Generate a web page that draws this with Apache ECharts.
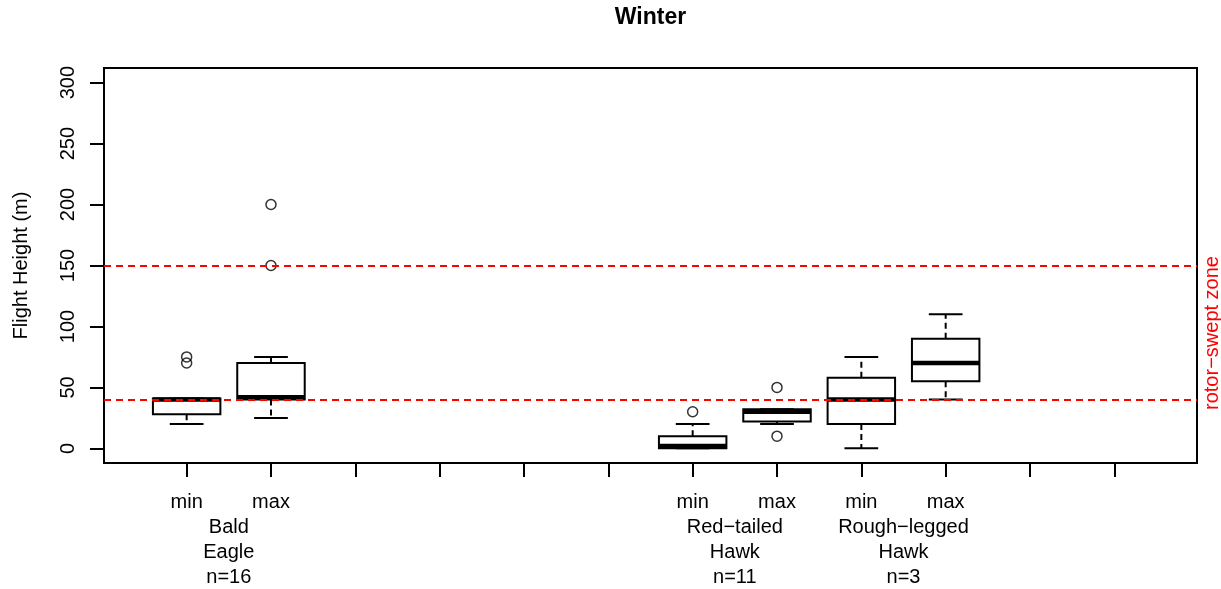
<!DOCTYPE html>
<html>
<head>
<meta charset="utf-8">
<script src="https://cdn.jsdelivr.net/npm/echarts@6/dist/echarts.min.js"></script>
<style>
html,body{margin:0;padding:0;background:#fff;}
#chart{width:1221px;height:589px;}
</style>
</head>
<body>
<div id="chart"></div>
<script>
// ---- data ----
const tickLabels = ['min','max','','','','','min','max','min','max','',''];
const tickPositions = [1,2,3,4,5,6,7,8,9,10,11,12];
const groupNames = ['Bald\nEagle\nn=16', 'Red\u2212tailed\nHawk\nn=11', 'Rough\u2212legged\nHawk\nn=3'];
const groupSlots = [[1,2],[7,8],[9,10]];

const boxPositions = [1, 2, 7, 8, 9, 10];
const whiskerLow  = [20, 25, 0, 20, 0, 40];
const quart1      = [28, 40, 0, 22, 20, 55];
const medians     = [40, 42, 2, 30, 40, 70];
const quart3      = [41, 70, 10, 32, 58, 90];
const whiskerHigh = [41, 75, 20, 32, 75, 110];
const outliers    = [[75, 70], [200, 150], [30], [50, 10], [], []];

const yTicks = [0, 50, 100, 150, 200, 250, 300];
const refLines = [40, 150];

// ---- build ----
const FONT = 'Liberation Sans, Arial, Helvetica, sans-serif';
const boxData = boxPositions.map((p, i) => [p, whiskerLow[i], quart1[i], medians[i], quart3[i], whiskerHigh[i]]);
const outlierData = [];
boxPositions.forEach((p, i) => outliers[i].forEach(v => outlierData.push([p, v])));
const groupData = groupSlots.map(s => [(s[0] + s[1]) / 2, -12]);

const chart = echarts.init(document.getElementById('chart'), null, {renderer: 'canvas'});

const option = {
  animation: false,
  backgroundColor: '#fff',
  grid: {left: 104, top: 68, width: 1093, height: 395, show: true, borderColor: '#000', borderWidth: 2, backgroundColor: 'transparent'},
  xAxis: {
    type: 'value', min: 0.02, max: 12.98,
    splitLine: {show: false},
    axisLine: {show: false, onZero: false},
    axisTick: {show: true, inside: false, length: 14, customValues: tickPositions, lineStyle: {color: '#000', width: 2}},
    axisLabel: {show: true, customValues: tickPositions, margin: 29, color: '#000', fontSize: 20, fontFamily: FONT,
      formatter: v => tickLabels[Math.round(v) - 1] || ''}
  },
  yAxis: {
    type: 'value', min: -12, max: 312,
    name: 'Flight Height (m)', nameLocation: 'middle', nameRotate: 90, nameGap: 73,
    nameTextStyle: {color: '#000', fontSize: 20, fontFamily: FONT},
    splitLine: {show: false},
    axisLine: {show: false, onZero: false},
    axisTick: {show: true, inside: false, length: 14, customValues: yTicks, lineStyle: {color: '#000', width: 2}},
    axisLabel: {show: true, customValues: yTicks, rotate: 90, margin: 26, color: '#000', fontSize: 20, fontFamily: FONT}
  },
  graphic: [
    {type: 'text', x: 650.5, y: 18, style: {text: 'Winter', fontSize: 23, fontWeight: 'bold', fontFamily: FONT, fill: '#000', align: 'center', verticalAlign: 'middle'}},
    {type: 'text', x: 1212, y: 333, rotation: Math.PI / 2, style: {text: 'rotor\u2212swept zone', fontSize: 20, fontFamily: FONT, fill: '#ff0000', align: 'center', verticalAlign: 'middle'}}
  ],
  series: [
    {
      type: 'custom',
      z: 2,
      data: boxData,
      renderItem: function (params, api) {
        const pos = api.value(0);
        const half = api.size([0.8, 0])[0] / 2;
        const cap = half / 2;
        const x = api.coord([pos, 0])[0];
        const y = v => api.coord([pos, v])[1];
        const yLo = y(api.value(1)), yQ1 = y(api.value(2)), yMed = y(api.value(3)), yQ3 = y(api.value(4)), yHi = y(api.value(5));
        const solid = {stroke: '#000', lineWidth: 2, fill: null};
        const dashed = {stroke: '#000', lineWidth: 2, lineDash: [6, 4], fill: null};
        return {
          type: 'group',
          children: [
            {type: 'line', shape: {x1: x, y1: yQ3, x2: x, y2: yHi}, style: dashed},
            {type: 'line', shape: {x1: x, y1: yQ1, x2: x, y2: yLo}, style: dashed},
            {type: 'line', shape: {x1: x - cap, y1: yHi, x2: x + cap, y2: yHi}, style: solid},
            {type: 'line', shape: {x1: x - cap, y1: yLo, x2: x + cap, y2: yLo}, style: solid},
            {type: 'rect', shape: {x: x - half, y: yQ3, width: 2 * half, height: yQ1 - yQ3}, style: {stroke: '#000', lineWidth: 2, fill: 'rgba(0,0,0,0)'}},
            {type: 'line', shape: {x1: x - half, y1: yMed, x2: x + half, y2: yMed}, style: {stroke: '#000', lineWidth: 4.5, lineCap: 'butt'}}
          ]
        };
      }
    },
    {
      type: 'scatter',
      z: 3,
      data: outlierData,
      symbol: 'circle',
      symbolSize: 10,
      itemStyle: {color: 'rgba(0,0,0,0)', borderColor: '#000', borderWidth: 1.5},
      silent: true
    },
    {
      type: 'line',
      z: 5,
      data: [],
      markLine: {
        silent: true,
        symbol: 'none',
        label: {show: false},
        lineStyle: {color: '#ff0000', width: 2, type: [7, 5]},
        data: refLines.map(v => ({yAxis: v}))
      }
    },
    {
      type: 'custom',
      z: 4,
      data: groupData,
      renderItem: function (params, api) {
        const p = api.coord([api.value(0), api.value(1)]);
        return {
          type: 'text',
          x: p[0], y: p[1] + 51.5,
          style: {text: groupNames[params.dataIndex], fontSize: 20, fontFamily: FONT, fill: '#000', align: 'center', verticalAlign: 'top', lineHeight: 25}
        };
      }
    }
  ]
};
chart.setOption(option);
</script>
</body>
</html>
